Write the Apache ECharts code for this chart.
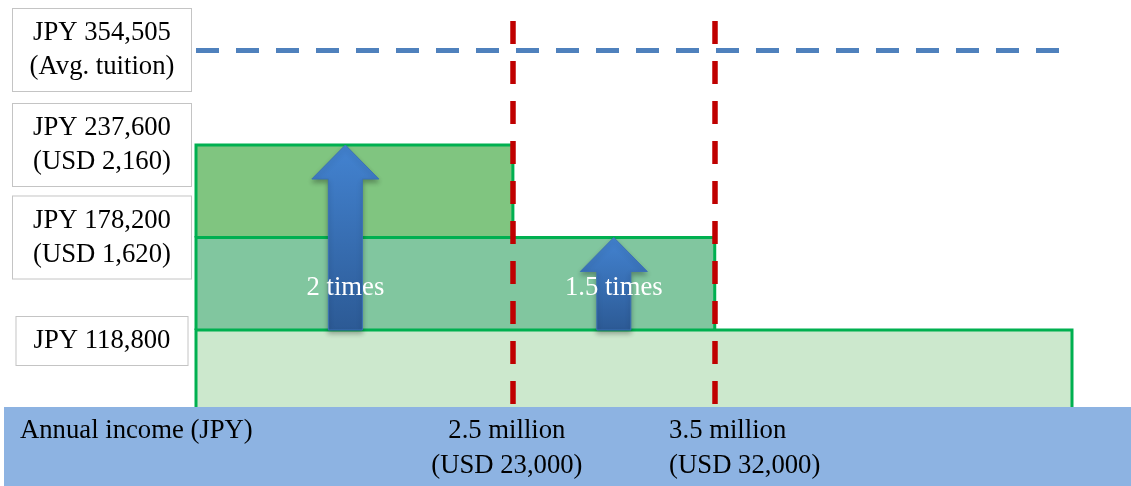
<!DOCTYPE html>
<html>
<head>
<meta charset="utf-8">
<script src="https://cdn.jsdelivr.net/npm/echarts@6/dist/echarts.min.js"></script>
<style>
html,body{margin:0;padding:0;background:#fff;}
#chart{width:1131px;height:486px;}
</style>
</head>
<body>
<div id="chart"></div>
<script>
// ---------------- data ----------------
const tierTuition = [118800, 178200, 237600];              // JPY tuition level of each tier
const tierTuitionLabels = ['JPY 118,800', 'JPY 178,200', 'JPY 237,600'];
const tierUsdLabels = ['', '(USD 1,620)', '(USD 2,160)'];
const tierIncomeEnd = [5.27, 3.5, 2.5];                    // million JPY, upper income edge of each tier
const incomeStart = 0.93;                                   // million JPY, left edge of schematic
const incomeEnd = 5.27;                                     // million JPY, right edge of schematic
const incomeThresholds = [2.5, 3.5];                        // million JPY
const incomeThresholdLabels = ['2.5 million', '3.5 million'];
const incomeThresholdUsd = ['(USD 23,000)', '(USD 32,000)'];
const avgTuition = 354505;
const avgTuitionLabel = 'JPY 354,505';
const avgTuitionNote = '(Avg. tuition)';
const arrowIncome = [1.67, 3.0];
const arrowFrom = [118800, 118800];
const arrowTo = [237600, 178200];
const arrowLabels = ['2 times', '1.5 times'];
const axisTitle = 'Annual income (JPY)';

// ---------------- scale set-up ----------------
const Y_MIN = 69354;
const Y_MAX = 373147;
const Y_BREAKS = [{ start: 260000, end: 340000, gap: 24081 }];

const FONT = '"Liberation Serif", "Times New Roman", serif';
const FS = 26.7;
const tierFills = ['#CCE8CD', '#81C69F', '#80C580'];

const yLabelText = {};
yLabelText[avgTuition] = avgTuitionLabel + '\n' + avgTuitionNote;
for (let i = 1; i < tierTuition.length; i++) {
  yLabelText[tierTuition[i]] = tierTuitionLabels[i] + '\n' + tierUsdLabels[i];
}

const chart = echarts.init(document.getElementById('chart'), null, { renderer: 'canvas' });

const tierData = tierTuition.map((v, i) => [incomeStart, tierIncomeEnd[i], i === 0 ? 0 : tierTuition[i - 1], v]);
const arrowData = arrowIncome.map((x, i) => [x, arrowFrom[i], arrowTo[i], arrowLabels[i]]);

const yAxisCommon = {
  type: 'value',
  min: Y_MIN,
  max: Y_MAX,
  breaks: Y_BREAKS,
  breakArea: { show: false, itemStyle: { opacity: 0 } },
  axisLine: { show: false },
  axisTick: { show: false },
  splitLine: { show: false },
  z: 5
};

const redDash = { color: '#C00000', width: 5.5, type: [23, 17] };

const option = {
  animation: false,
  backgroundColor: '#ffffff',
  grid: { left: 196, right: 59, top: 21, bottom: 79, containLabel: false, outerBoundsMode: 'none' },
  graphic: [
    { type: 'rect', z: 0, shape: { x: 4, y: 407, width: 1127, height: 79 }, style: { fill: '#8DB3E2' } },
    { type: 'text', z: 6, x: 20, y: 431, style: { text: axisTitle, font: FS + 'px ' + FONT, fill: '#000', verticalAlign: 'middle', align: 'left' } }
  ],
  xAxis: {
    type: 'value',
    min: incomeStart,
    max: incomeEnd,
    z: 5,
    axisLine: { show: false },
    axisTick: { show: false },
    splitLine: { show: false },
    axisLabel: {
      customValues: incomeThresholds,
      margin: 6,
      formatter: function (v) {
        const i = incomeThresholds.indexOf(v);
        if (i < 0) return '';
        const key = i === 0 ? 'c' : 'l';
        return '{' + key + '|' + incomeThresholdLabels[i] + '}\n{' + key + '|' + incomeThresholdUsd[i] + '}';
      },
      rich: {
        c: { fontFamily: FONT, fontSize: FS, color: '#000', lineHeight: 35, align: 'center', padding: [0, 12, 0, 0] },
        l: { fontFamily: FONT, fontSize: FS, color: '#000', lineHeight: 35, align: 'left', padding: [0, 0, 0, 60] }
      }
    }
  },
  yAxis: [
    Object.assign({}, yAxisCommon, {
      position: 'left',
      axisLabel: {
        customValues: [avgTuition, tierTuition[2], tierTuition[1]],
        formatter: function (v) { return yLabelText[v] || ''; },
        fontFamily: FONT,
        fontSize: FS,
        color: '#000',
        lineHeight: 34,
        align: 'center',
        margin: 94,
        width: 160,
        backgroundColor: '#fff',
        borderColor: '#C4C4C4',
        borderWidth: 1,
        padding: [7, 9, 7, 9]
      }
    }),
    Object.assign({}, yAxisCommon, {
      position: 'left',
      axisLabel: {
        customValues: [tierTuition[0]],
        formatter: function () { return '{sp| }\n{b|' + tierTuitionLabels[0] + '}'; },
        align: 'center',
        margin: 94,
        rich: {
          sp: { fontSize: 10, lineHeight: 22, height: 22 },
          b: {
            fontFamily: FONT, fontSize: FS, color: '#000', lineHeight: 34, height: 34,
            align: 'center', width: 153,
            backgroundColor: '#fff', borderColor: '#C4C4C4', borderWidth: 1,
            padding: [7, 9, 7, 9]
          }
        }
      }
    })
  ],
  series: [
    {
      name: 'tiers',
      type: 'custom',
      z: 2,
      xAxisIndex: 0,
      yAxisIndex: 0,
      data: tierData,
      renderItem: function (params, api) {
        const cs = params.coordSys;
        const bottom = cs.y + cs.height;
        const low = Math.max(api.value(2), Y_MIN);
        const p0 = api.coord([api.value(0), low]);
        const p1 = api.coord([api.value(1), api.value(3)]);
        const left = p0[0], right = p1[0];
        const yTop = p1[1];
        const yBot = Math.min(p0[1], bottom);
        return {
          type: 'group',
          children: [
            { type: 'rect', z2: 0, shape: { x: left, y: yTop, width: right - left, height: yBot - yTop }, style: { fill: tierFills[params.dataIndex] } },
            { type: 'polyline', z2: 5, shape: { points: [[left, yBot], [left, yTop], [right, yTop], [right, yBot]] }, style: { stroke: '#00B050', lineWidth: 3, fill: null } }
          ]
        };
      }
    },
    {
      name: 'arrows',
      type: 'custom',
      z: 3,
      xAxisIndex: 0,
      yAxisIndex: 0,
      data: arrowData,
      renderItem: function (params, api) {
        const a = api.coord([api.value(0), api.value(1)]);
        const b = api.coord([api.value(0), api.value(2)]);
        const x = a[0], yFrom = a[1], yTo = b[1];
        const sw = 17, hw = 33.5, hh = 34;
        const pts = [
          [x - sw, yFrom], [x - sw, yTo + hh], [x - hw, yTo + hh], [x, yTo],
          [x + hw, yTo + hh], [x + sw, yTo + hh], [x + sw, yFrom]
        ];
        return {
          type: 'group',
          children: [
            {
              type: 'polygon', z2: 1,
              shape: { points: pts },
              style: {
                fill: new echarts.graphic.LinearGradient(0, 0, 0, 1, [
                  { offset: 0, color: '#4383D1' }, { offset: 1, color: '#2C5A95' }
                ]),
                stroke: '#3B71B6', lineWidth: 1,
                shadowBlur: 5, shadowOffsetY: 3, shadowColor: 'rgba(0,0,0,0.3)'
              }
            },
            {
              type: 'text', z2: 10,
              x: x, y: yFrom - 42,
              style: { text: api.value(3), fill: '#fff', font: FS + 'px ' + FONT, align: 'center', verticalAlign: 'middle' }
            }
          ]
        };
      },
      markLine: {
        silent: true,
        symbol: 'none',
        label: { show: false },
        data: [
          [{ coord: [incomeThresholds[0], Y_MAX], lineStyle: redDash },
           { coord: [incomeThresholds[0], Y_MIN] }],
          [{ coord: [incomeThresholds[1], Y_MAX], lineStyle: redDash },
           { coord: [incomeThresholds[1], Y_MIN] }],
          { yAxis: avgTuition, lineStyle: { color: '#4F81BD', width: 5, type: [23, 17] } }
        ]
      }
    }
  ]
};

chart.setOption(option);
</script>
</body>
</html>
